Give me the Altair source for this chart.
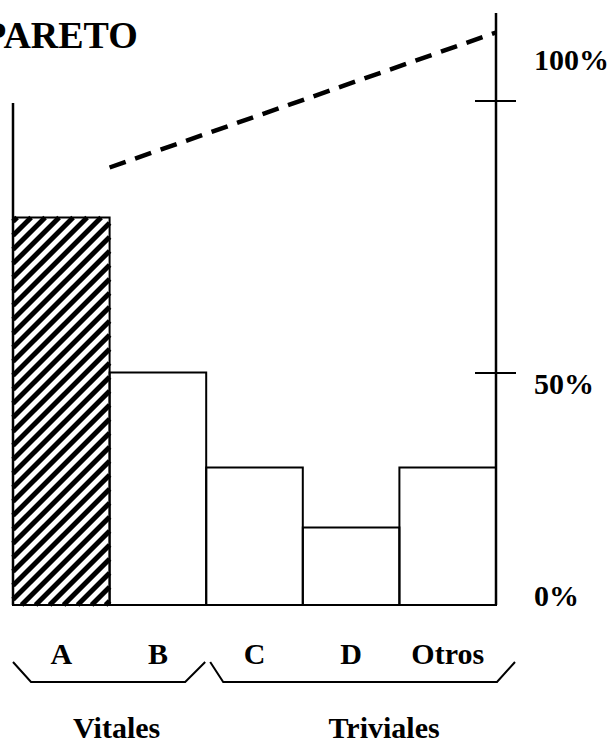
import altair as alt
import numpy as np
import pandas as pd

# Pareto diagram: frequency bars, cumulative trend, percent scale on the right
categories = ["A", "B", "C", "D", "Otros"]
frequencies = [77.5, 46.5, 27.5, 15.5, 27.5]
trend_at = [1, 5]
trend_values = [87.5, 114.5]
pct_ticks = [0, 50, 100]
pct_labels = ["0%", "50%", "100%"]
groups = ["Vitales", "Triviales"]
group_first = [0, 2]
group_last = [2, 5]

W, H = 483, 600
Y_MAX = 120
X_MAX = len(categories)
FONT = "Liberation Serif"
px_x = W / X_MAX
px_y = H / Y_MAX

xs = alt.Scale(domain=[0, X_MAX], nice=False, zero=False)
ys = alt.Scale(domain=[0, Y_MAX], nice=False, zero=True)
# percent scale on the right-hand axis (hand-drawn spacing)
ps = alt.Scale(domain=[0, 50, 100], range=[600, 368, 96], nice=False)

bars = pd.DataFrame({
    "cat": categories,
    "x0": list(range(X_MAX)),
    "x1": [i + 1 for i in range(X_MAX)],
    "freq": frequencies,
    "mid": [i + 0.5 for i in range(X_MAX)],
})

# diagonal hatching for the first (vital) bar, 45 degrees on screen
bw = px_x
bh = frequencies[0] * px_y
gap = 14.0
stripes = []
for k in np.arange(-bw + 4, bh, gap):
    u0 = max(0.0, -k)
    u1 = min(bw, bh - k)
    if u1 - u0 < 1:
        continue
    stripes.append({"x": u0 / px_x, "y": (u0 + k) / px_y,
                    "x2": u1 / px_x, "y2": (u1 + k) / px_y})
stripes = pd.DataFrame(stripes)

trend = pd.DataFrame({"x": trend_at, "y": trend_values})

# brackets under the category labels
insets = {"Vitales": (0, 18, -21, -1), "Triviales": (4, 17, 1, 19)}
top_b = -57 / px_y
bot_b = -77 / px_y
brows = []
for g, s, e in zip(groups, group_first, group_last):
    a, b, c, d = insets[g]
    pts = [(s + a / px_x, top_b), (s + b / px_x, bot_b),
           (e + c / px_x, bot_b), (e + d / px_x, top_b)]
    for i, (px, py) in enumerate(pts):
        brows.append({"g": g, "o": i, "x": px, "y": py})
brackets = pd.DataFrame(brows)

grp = pd.DataFrame({"g": groups,
                    "mid": [(s + e) / 2 for s, e in zip(group_first, group_last)]})
pct = pd.DataFrame({"p": pct_ticks, "lab": pct_labels})
one = pd.DataFrame({"v": [0]})

X = lambda f: alt.X(f, type="quantitative", scale=xs, axis=None)
Y = lambda f: alt.Y(f, type="quantitative", scale=ys, axis=None)

fill = alt.Chart(bars).mark_rect(fill="white", stroke=None).encode(
    x=X("x0"), x2="x1", y=Y("freq"), y2=alt.datum(0))

hatch = alt.Chart(stripes).mark_rule(color="black", strokeWidth=5, strokeCap="butt").encode(
    x=X("x"), y=Y("y"), x2="x2", y2="y2")

outline = alt.Chart(bars).mark_rect(fill=None, fillOpacity=0, stroke="black", strokeWidth=2).encode(
    x=X("x0"), x2="x1", y=Y("freq"), y2=alt.datum(0))

left_axis = alt.Chart(one).mark_rule(color="black", strokeWidth=2.5).encode(
    x=alt.X(datum=0, type="quantitative", scale=xs, axis=None),
    y=alt.Y(datum=0, type="quantitative", scale=ys, axis=None),
    y2=alt.datum(100.4))

right_axis = alt.Chart(one).mark_rule(color="black", strokeWidth=2.5).encode(
    x=alt.X(datum=X_MAX, type="quantitative", scale=xs, axis=None),
    y=alt.Y(datum=0, type="quantitative", scale=ys, axis=None),
    y2=alt.datum(118.4))

trend_line = alt.Chart(trend).mark_line(
    color="black", strokeWidth=4.5, strokeDash=[17, 10], strokeCap="butt").encode(
    x=X("x"), y=Y("y"))

cat_text = alt.Chart(bars).mark_text(
    font=FONT, fontSize=30, fontWeight="bold", baseline="alphabetic", dy=59).encode(
    x=X("mid"), y=alt.Y(datum=0, type="quantitative", scale=ys, axis=None), text="cat")

bracket_line = alt.Chart(brackets).mark_line(color="black", strokeWidth=2).encode(
    x=X("x"), y=Y("y"), detail="g", order="o")

group_dx = {"Vitales": 7, "Triviales": 33}
group_text = [
    alt.Chart(grp[grp.g == g]).mark_text(
        font=FONT, fontSize=30, fontWeight="bold", baseline="alphabetic",
        dy=133, dx=group_dx[g]).encode(
        x=X("mid"), y=alt.Y(datum=0, type="quantitative", scale=ys, axis=None), text="g")
    for g in groups
]

units = alt.layer(fill, hatch, outline, left_axis, right_axis, trend_line,
                  cat_text, bracket_line, *group_text)

P = lambda: alt.Y("p", type="quantitative", scale=ps, axis=None)
ticks = alt.Chart(pct[pct.p > 0]).mark_rule(
    color="black", strokeWidth=2, xOffset=-21, x2Offset=20).encode(
    x=alt.X(datum=X_MAX, type="quantitative", scale=xs, axis=None),
    x2=alt.datum(X_MAX), y=P())

label_dy = {"0%": 1, "50%": 21, "100%": -31}
pct_text = [
    alt.Chart(pct[pct.lab == lab]).mark_text(
        font=FONT, fontSize=30, fontWeight="bold", align="left",
        baseline="alphabetic", dx=38, dy=label_dy[lab]).encode(
        x=alt.X(datum=X_MAX, type="quantitative", scale=xs, axis=None),
        y=P(), text="lab")
    for lab in pct_labels
]

percent = alt.layer(ticks, *pct_text)

chart = alt.layer(units, percent).resolve_scale(y="independent").properties(
    width=W, height=H,
    autosize=alt.AutoSizeParams(type="none"),
    padding={"left": 13, "top": 5, "right": 118, "bottom": 140},
    background="white",
    title=alt.TitleParams("PARETO", anchor="start", font=FONT, fontSize=38,
                          fontWeight="bold", baseline="alphabetic",
                          offset=0, dx=-26, dy=81, color="black"),
).configure_view(stroke=None)

chart.save("out.html", embed_options={"renderer": "svg", "actions": False})
